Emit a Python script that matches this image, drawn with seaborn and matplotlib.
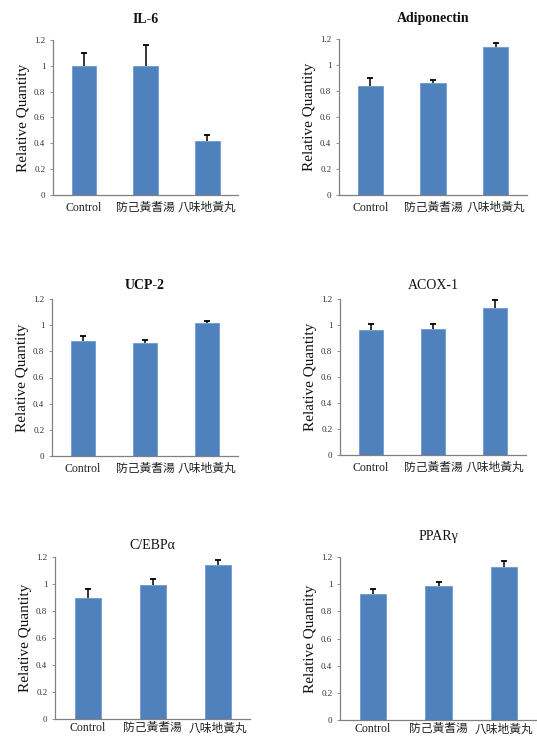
import numpy as np
import pandas as pd
import seaborn as sns
import matplotlib.pyplot as plt

# Data
groups = ["Control", "防己黃耆湯", "八味地黃丸"]
titles = ["IL-6", "Adiponectin", "UCP-2", "ACOX-1", "C/EBPα", "PPARγ"]

il6_mean = [1.00, 1.00, 0.42]
il6_err = [0.10, 0.16, 0.045]
adipo_mean = [0.84, 0.86, 1.135]
adipo_err = [0.06, 0.025, 0.033]
ucp2_mean = [0.88, 0.865, 1.015]
ucp2_err = [0.04, 0.02, 0.02]
acox1_mean = [0.965, 0.97, 1.13]
acox1_err = [0.045, 0.04, 0.06]
cebpa_mean = [0.895, 0.99, 1.14]
cebpa_err = [0.07, 0.045, 0.037]
pparg_mean = [0.925, 0.99, 1.13]
pparg_err = [0.037, 0.027, 0.044]

yticks = [0, 0.2, 0.4, 0.6, 0.8, 1.0, 1.2]
ytick_labels = ["0", "0.2", "0.4", "0.6", "0.8", "1", "1.2"]

means = [il6_mean, adipo_mean, ucp2_mean, acox1_mean, cebpa_mean, pparg_mean]
errs = [il6_err, adipo_err, ucp2_err, acox1_err, cebpa_err, pparg_err]

sns.set_style("white")
plt.rcParams['font.family'] = ['Liberation Serif', 'Noto Sans CJK TC', 'DejaVu Sans']

W, H = 537, 738
fig = plt.figure(figsize=(W / 100, H / 100), dpi=100)

# axes boxes in pixels: left, right, top, bottom
boxes = [
    (53, 238, 40, 195),
    (339, 527, 39, 195),
    (52, 238, 299, 456),
    (340, 526, 299, 455),
    (55, 250, 557, 719),
    (340, 537, 557, 720),
]
title_pads = [12, 12, 7, 7, 6, 12]
title_weights = ["bold", "semibold", "bold", "normal", "normal", "normal"]
xlabel_pads = [5, 5, 5, 5, 2.5, 2.5]

bar_color = "#4F81BD"

for i in range(6):
    l, r, t, b = boxes[i]
    ax = fig.add_axes([l / W, 1 - b / H, (r - l) / W, (b - t) / H])
    df = pd.DataFrame({"group": groups, "value": means[i]})
    sns.barplot(data=df, x="group", y="value", ax=ax, color=bar_color,
                width=0.4, errorbar=None, saturation=1,
                edgecolor="#6E9AD0", linewidth=0.6)
    lower = np.zeros(len(groups))
    eb = ax.errorbar(np.arange(len(groups)), means[i], yerr=[lower, errs[i]],
                     fmt="none", ecolor="black", elinewidth=1.1, capsize=2.2,
                     capthick=1.3)
    # one-sided bars: hide the cap sitting on the bar top
    eb[1][0].set_visible(False)
    ax.set_xlim(-0.5, 2.5)
    ax.set_ylim(0, 1.2)
    ax.set_yticks(yticks)
    ax.set_yticklabels(ytick_labels, fontsize=6.5, color="#333333")
    ax.tick_params(axis="y", length=2.5, width=0.6, color="#808080",
                   left=True, pad=3)
    ax.tick_params(axis="x", length=0, labelsize=8.5, pad=xlabel_pads[i],
                   labelcolor="#222222")
    for lab in ax.get_xticklabels():
        lab.set_family(['Liberation Serif', 'Noto Sans CJK TC'])
    ax.set_xlabel("")
    ax.set_ylabel("Relative Quantity", fontsize=11, labelpad=3, color="#111111")
    for s in ["top", "right"]:
        ax.spines[s].set_visible(False)
    for s in ["left", "bottom"]:
        ax.spines[s].set_color("#808080")
        ax.spines[s].set_linewidth(0.9)
    ax.set_title(titles[i], fontsize=10, pad=title_pads[i],
                 fontweight=title_weights[i], color="#111111")

fig.savefig("out.png", dpi=100)
